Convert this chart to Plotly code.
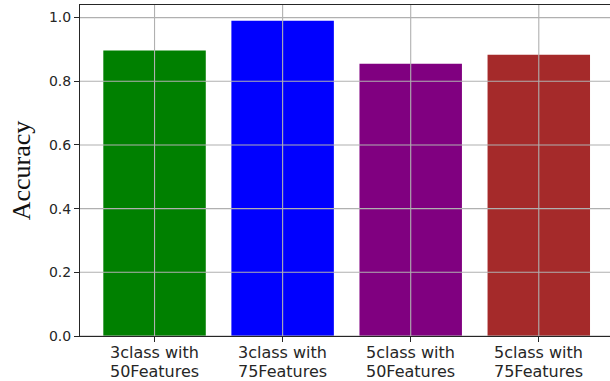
import plotly.graph_objects as go

# Classification accuracy per configuration
label_line1 = ["3class with", "3class with", "5class with", "5class with"]
label_line2 = ["50Features", "75Features", "50Features", "75Features"]
accuracy = [0.897, 0.99, 0.855, 0.883]
bar_colors = ["green", "blue", "purple", "brown"]
y_ticks = [0.0, 0.2, 0.4, 0.6, 0.8, 1.0]
y_tick_text = ["0.0", "0.2", "0.4", "0.6", "0.8", "1.0"]

x_idx = list(range(len(accuracy)))
y_max = max(accuracy) * 1.05
text_color = "#262626"

fig = go.Figure(go.Bar(
    x=x_idx, y=accuracy, width=0.8,
    marker=dict(color=bar_colors, line=dict(width=0)),
))

grid_color = "#b0b0b0"
shapes = []
# grid lines drawn on top of the bars
for yv in y_ticks:
    shapes.append(dict(type="line", xref="paper", yref="y", x0=0, x1=1, y0=yv, y1=yv,
                       line=dict(color=grid_color, width=1.1), layer="above"))
for xv in x_idx:
    shapes.append(dict(type="line", xref="x", yref="paper", x0=xv, x1=xv, y0=0, y1=1,
                       line=dict(color=grid_color, width=1.1), layer="above"))

# two-line category labels under each bar, with tight line spacing
annotations = []
for xv, l1, l2 in zip(x_idx, label_line1, label_line2):
    for text, shift in ((l1, -6), (l2, -25)):
        annotations.append(dict(
            x=xv, y=0, xref="x", yref="paper", text=text, showarrow=False,
            xanchor="center", yanchor="top", yshift=shift, borderpad=0,
            font=dict(family="DejaVu Sans", size=16, color=text_color),
        ))

fig.update_layout(
    width=610, height=381,
    margin=dict(l=80, r=0, t=5, b=45),
    paper_bgcolor="white", plot_bgcolor="white",
    showlegend=False,
    shapes=shapes,
    annotations=annotations,
    xaxis=dict(
        range=[-0.582, 3.556], tickmode="array", tickvals=x_idx, showticklabels=False,
        showgrid=False, zeroline=False, automargin=False,
        showline=True, mirror=True, linecolor=text_color, linewidth=1.1,
        ticks="outside", ticklen=5, tickwidth=1.1, tickcolor=text_color,
        layer="above traces",
    ),
    yaxis=dict(
        range=[0, y_max], tickmode="array", tickvals=y_ticks, ticktext=y_tick_text,
        showgrid=False, zeroline=False, automargin=False,
        showline=True, linecolor=text_color, linewidth=1.1,
        ticks="outside", ticklen=5, tickwidth=1.1, tickcolor=text_color,
        tickfont=dict(family="DejaVu Sans", size=14, color=text_color),
        title=dict(text="Accuracy", font=dict(family="Liberation Serif", size=26, color="#111111"),
                   standoff=10),
        layer="above traces",
    ),
)

fig.write_html("out.html")
